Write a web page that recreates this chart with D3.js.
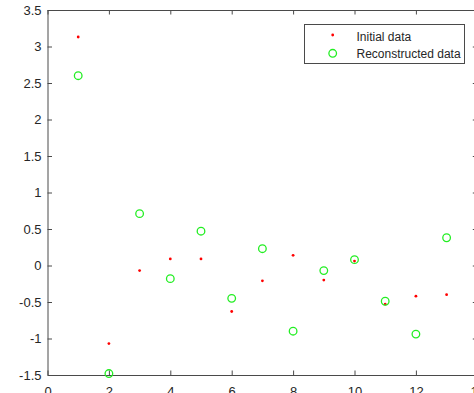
<!DOCTYPE html>
<html>
<head>
<meta charset="utf-8">
<script src="https://cdn.jsdelivr.net/npm/d3@7"></script>
<style>
  html, body { margin: 0; padding: 0; background: #fff; }
  svg { display: block; font-family: "Liberation Sans", Arial, Helvetica, sans-serif; }
</style>
</head>
<body>
<svg id="chart" width="474" height="393"></svg>
<script>
// Sample index for both series
const samples = [1, 2, 3, 4, 5, 6, 7, 8, 9, 10, 11, 12, 13];
// Original signal values
const initialData = [3.13, -1.07, -0.07, 0.09, 0.09, -0.63, -0.21, 0.14, -0.20, 0.06, -0.53, -0.42, -0.40];
// Values recovered after reconstruction
const reconstructedData = [2.60, -1.48, 0.71, -0.18, 0.47, -0.45, 0.23, -0.90, -0.07, 0.08, -0.49, -0.94, 0.38];

const xTicks = [0, 2, 4, 6, 8, 10, 12, 14];
const xTickLabels = ["0", "2", "4", "6", "8", "10", "12", "14"];
const yTicks = [-1.5, -1, -0.5, 0, 0.5, 1, 1.5, 2, 2.5, 3, 3.5];
const yTickLabels = ["-1.5", "-1", "-0.5", "0", "0.5", "1", "1.5", "2", "2.5", "3", "3.5"];

const legendLabels = ["Initial data", "Reconstructed data"];

const axisColor = "#4a4a4a";
const textColor = "#262626";
const red = "#ff0000";
const green = "#22ee22";

const svg = d3.select("#chart");

const x = d3.scaleLinear().domain([0, 14]).range([47.5, 477.3]);
const y = d3.scaleLinear().domain([-1.5, 3.5]).range([375, 10]);

const tickLen = 4.5;

// Bottom axis (ticks pointing inward)
const xAxis = d3.axisBottom(x)
  .tickValues(xTicks)
  .tickFormat((d, i) => xTickLabels[i])
  .tickSizeInner(-tickLen).tickSizeOuter(0).tickPadding(12);
const gx = svg.append("g").attr("transform", `translate(0,${y(-1.5)})`).call(xAxis);

// Top box edge with ticks
const xTop = d3.axisTop(x)
  .tickValues(xTicks)
  .tickFormat("")
  .tickSizeInner(-tickLen).tickSizeOuter(0);
const gxt = svg.append("g").attr("transform", `translate(0,${y(3.5)})`).call(xTop);

// Left axis
const yAxis = d3.axisLeft(y)
  .tickValues(yTicks)
  .tickFormat((d, i) => yTickLabels[i])
  .tickSizeInner(-tickLen).tickSizeOuter(0).tickPadding(6);
const gy = svg.append("g").attr("transform", `translate(${x(0)},0)`).call(yAxis);

// Right box edge with ticks
const yRight = d3.axisRight(y)
  .tickValues(yTicks)
  .tickFormat("")
  .tickSizeInner(-tickLen).tickSizeOuter(0);
const gyr = svg.append("g").attr("transform", `translate(${x(14)},0)`).call(yRight);

[gx, gxt, gy, gyr].forEach(g => {
  g.select(".domain").attr("stroke", axisColor).attr("stroke-width", 1);
  g.selectAll(".tick line").attr("stroke", axisColor).attr("stroke-width", 1);
  g.selectAll(".tick text")
    .attr("fill", textColor)
    .style("font-size", "13px")
    .style("font-family", "'Liberation Sans', Arial, sans-serif");
});

// Initial data: small red dots
svg.append("g").selectAll("circle")
  .data(samples.map((s, i) => [s, initialData[i]]))
  .join("circle")
  .attr("cx", d => x(d[0]))
  .attr("cy", d => y(d[1]))
  .attr("r", 1.4)
  .attr("fill", red);

// Reconstructed data: hollow green circles
svg.append("g").selectAll("circle")
  .data(samples.map((s, i) => [s, reconstructedData[i]]))
  .join("circle")
  .attr("cx", d => x(d[0]))
  .attr("cy", d => y(d[1]))
  .attr("r", 3.8)
  .attr("fill", "none")
  .attr("stroke", green)
  .attr("stroke-width", 1.3);

// Legend
const legend = svg.append("g");
legend.append("rect")
  .attr("x", 304.5).attr("y", 24.5)
  .attr("width", 160).attr("height", 39)
  .attr("fill", "#fff")
  .attr("stroke", axisColor)
  .attr("stroke-width", 1);

legend.append("circle")
  .attr("cx", 332.7).attr("cy", 35).attr("r", 1.4).attr("fill", red);
legend.append("circle")
  .attr("cx", 332.7).attr("cy", 53.3).attr("r", 3.8)
  .attr("fill", "none").attr("stroke", green).attr("stroke-width", 1.3);

legend.selectAll("text")
  .data(legendLabels)
  .join("text")
  .attr("x", 356.5)
  .attr("y", (d, i) => 40.5 + i * 17.3)
  .attr("fill", textColor)
  .style("font-size", "12px")
  .text(d => d);
</script>
</body>
</html>
